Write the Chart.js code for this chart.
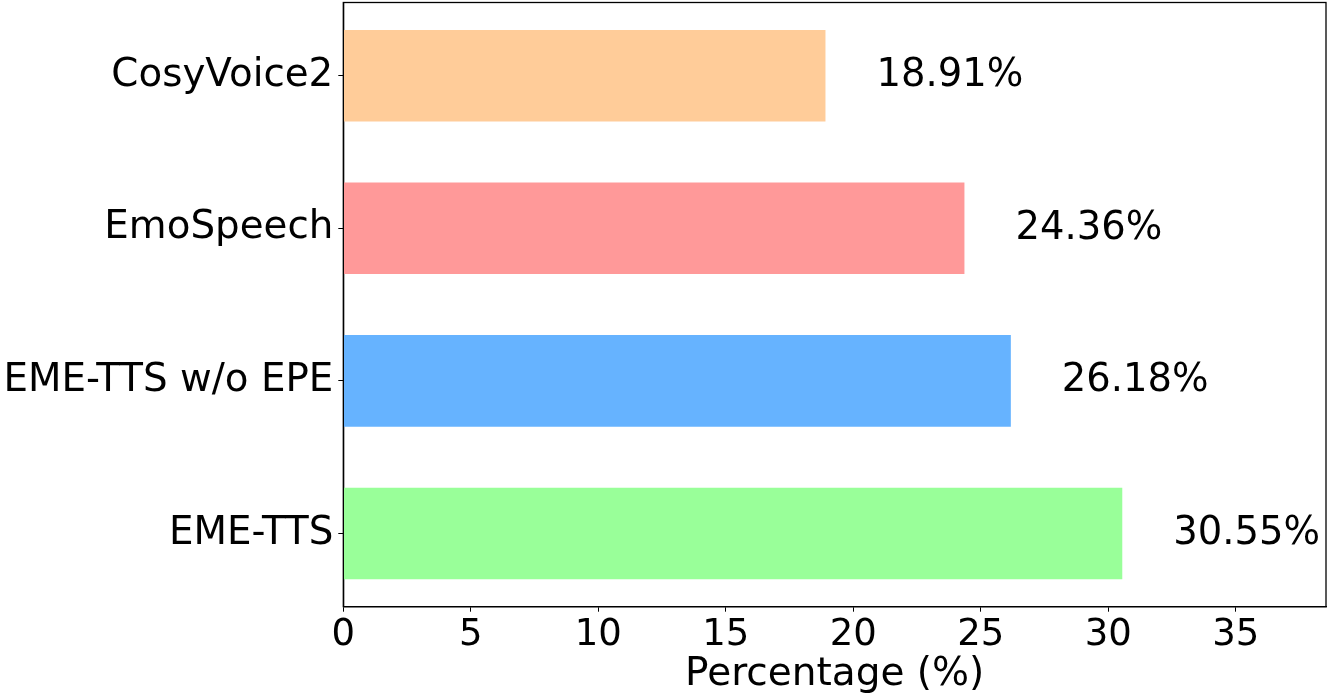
<!DOCTYPE html>
<html>
<head>
<meta charset="utf-8">
<script src="https://cdn.jsdelivr.net/npm/chart.js@4/dist/chart.umd.min.js"></script>
<style>
html,body{margin:0;padding:0;background:#fff;}
#wrap{width:1336px;height:699px;position:relative;}
</style>
</head>
<body>
<div id="wrap"><canvas id="c" width="1336" height="699"></canvas></div>
<script>
const categories = ["EME-TTS", "EME-TTS w/o EPE", "EmoSpeech", "CosyVoice2"];
const values = [30.55, 26.18, 24.36, 18.91];
const colors = ["#99FF99", "#66B3FF", "#FF9999", "#FFCC99"];
const xTicks = [0, 5, 10, 15, 20, 25, 30, 35];
const xTitle = "Percentage (%)";

const FONT = "'DejaVu Sans'";

const frame = {
  id: 'frame',
  afterDatasetsDraw(chart) {
    const {ctx, chartArea: a} = chart;
    ctx.save();
    ctx.strokeStyle = '#000';
    ctx.lineWidth = 1.3;
    ctx.strokeRect(a.left, a.top, a.right - a.left, a.bottom - a.top);
    const xs = chart.scales.x, ys = chart.scales.y;
    ctx.fillStyle = '#000';
    ctx.font = "38.5px " + FONT;
    ctx.textAlign = 'left';
    ctx.textBaseline = 'alphabetic';
    values.forEach((v, i) => {
      const px = xs.getPixelForValue(v + 2);
      const py = ys.getPixelForValue(i);
      ctx.fillText(v.toFixed(2) + '%', px, py + 10.5);
    });
    ctx.restore();
  }
};

function zeroPad(s) { s.paddingTop = 0; s.paddingBottom = 0; s.paddingLeft = 0; s.paddingRight = 0; }

new Chart(document.getElementById('c'), {
  type: 'bar',
  data: {
    datasets: [{
      data: values.map((v, i) => ({x: v, y: i})),
      backgroundColor: colors,
      borderWidth: 0,
      barPercentage: 0.6,
      categoryPercentage: 1.0
    }]
  },
  options: {
    indexAxis: 'y',
    responsive: false,
    animation: false,
    devicePixelRatio: 1,
    layout: {padding: {left: 0, right: 10, top: 2.5, bottom: 0}},
    plugins: {legend: {display: false}, tooltip: {enabled: false}},
    scales: {
      x: {
        type: 'linear',
        min: 0,
        max: 38.54,
        offset: false,
        afterBuildTicks: (s) => { s.ticks = xTicks.map(v => ({value: v})); },
        afterFit: (s) => { s.height = 92.3; zeroPad(s); },
        grid: {offset: false, drawOnChartArea: false, drawTicks: true, tickLength: 5, color: '#000', lineWidth: 1},
        border: {display: true, color: '#000', width: 1.3},
        ticks: {color: '#000', font: {family: FONT, size: 37}, padding: 1, maxRotation: 0, autoSkip: false},
        title: {display: true, text: xTitle, color: '#000', font: {family: FONT, size: 39}, padding: {top: 0, bottom: 1}}
      },
      y: {
        type: 'linear',
        min: -0.48,
        max: 3.48,
        offset: false,
        afterBuildTicks: (s) => { s.ticks = categories.map((c, i) => ({value: i})); },
        afterFit: (s) => { s.width = 343.3; zeroPad(s); },
        grid: {offset: false, drawOnChartArea: false, drawTicks: true, tickLength: 5, color: '#000', lineWidth: 1},
        border: {display: true, color: '#000', width: 1.3},
        ticks: {color: '#000', font: {family: FONT, size: 38.8}, padding: 5, autoSkip: false,
          callback: (v) => categories[v]}
      }
    }
  },
  plugins: [frame]
});
</script>
</body>
</html>
